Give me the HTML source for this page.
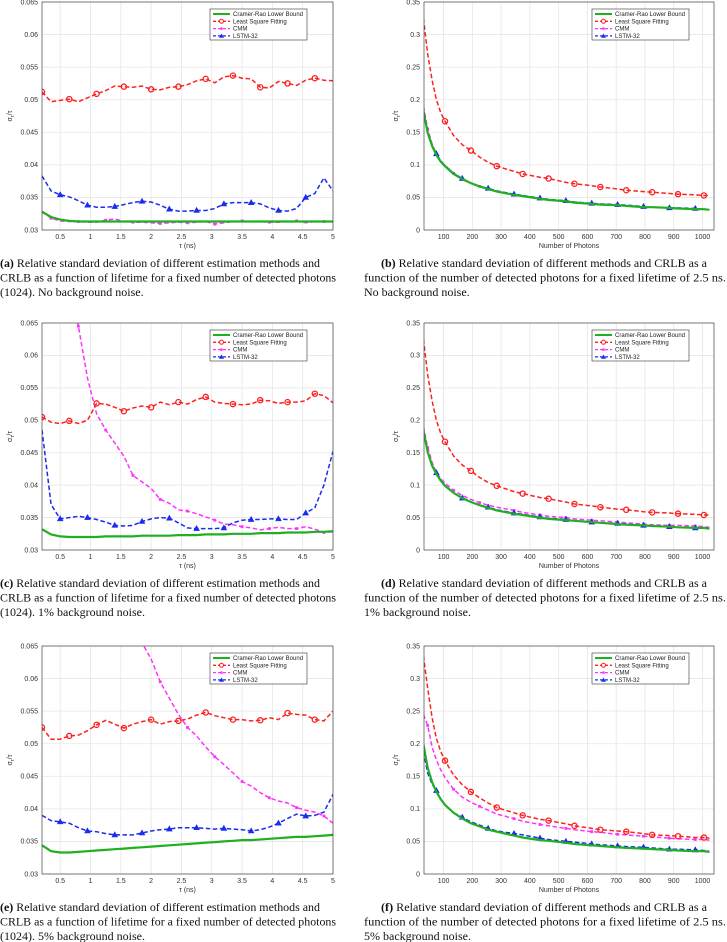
<!DOCTYPE html>
<html><head><meta charset="utf-8"><style>
html,body{margin:0;padding:0;background:#fff}
svg{display:block}
.tk{font-family:"Liberation Sans",sans-serif;font-size:7px;fill:#333}
.lg{font-family:"Liberation Sans",sans-serif;font-size:6px;fill:#222}
.cap{font-family:"Liberation Serif",serif;font-size:12px;fill:#111}
</style></head><body>
<svg id="fig" width="727" height="942" viewBox="0 0 727 942" xmlns="http://www.w3.org/2000/svg"></svg>
<script>
// ---- data ----
const tauGrid=[0.2,0.35,0.5,0.65,0.8,0.95,1.1,1.25,1.4,1.55,1.7,1.85,2.0,2.15,2.3,2.45,2.6,2.75,2.9,3.05,3.2,3.35,3.5,3.65,3.8,3.95,4.1,4.25,4.4,4.55,4.7,4.85,5.0];
const aCRLB=[0.0328,0.0320,0.0316,0.0314,0.0313,0.0313,0.0313,0.0313,0.0313,0.0313,0.0313,0.0313,0.0313,0.0313,0.0313,0.0313,0.0313,0.0313,0.0313,0.0313,0.0313,0.0313,0.0313,0.0313,0.0313,0.0313,0.0313,0.0313,0.0313,0.0313,0.0313,0.0313,0.0313];
const aLSF=[0.0512,0.0497,0.0499,0.0501,0.0497,0.0503,0.0509,0.0514,0.0521,0.0520,0.0519,0.0521,0.0516,0.0515,0.0519,0.0520,0.0523,0.0529,0.0532,0.0526,0.0535,0.0537,0.0533,0.0532,0.0519,0.0518,0.0528,0.0525,0.0522,0.0530,0.0533,0.0530,0.0529];
const aCMM=[0.0329,0.0318,0.0314,0.0313,0.0313,0.0312,0.0312,0.0315,0.0317,0.0313,0.0312,0.0312,0.0311,0.0310,0.0311,0.0312,0.0311,0.0312,0.0313,0.0309,0.0311,0.0313,0.0314,0.0313,0.0313,0.0312,0.0312,0.0313,0.0314,0.0311,0.0313,0.0313,0.0313];
const aLSTM=[0.0383,0.0360,0.0354,0.0351,0.0345,0.0338,0.0335,0.0335,0.0336,0.0339,0.0342,0.0344,0.0343,0.0338,0.0332,0.0329,0.0329,0.0330,0.0330,0.0333,0.0340,0.0342,0.0342,0.0342,0.0340,0.0334,0.0330,0.0329,0.0333,0.0350,0.0356,0.0380,0.0360];
const cCRLB=[0.0332,0.0324,0.0321,0.0320,0.0320,0.0320,0.0320,0.0321,0.0321,0.0321,0.0321,0.0322,0.0322,0.0322,0.0322,0.0323,0.0323,0.0323,0.0324,0.0324,0.0324,0.0325,0.0325,0.0325,0.0326,0.0326,0.0326,0.0327,0.0327,0.0327,0.0328,0.0328,0.0329];
const cLSF=[0.0505,0.0497,0.0495,0.0499,0.0495,0.0500,0.0526,0.0525,0.0520,0.0514,0.0519,0.0522,0.0520,0.0528,0.0524,0.0528,0.0525,0.0532,0.0536,0.0528,0.0526,0.0525,0.0524,0.0525,0.0531,0.0530,0.0526,0.0528,0.0528,0.0530,0.0541,0.0538,0.0527];
const cCMM=[0.120,0.100,0.085,0.072,0.0645,0.0565,0.0510,0.0485,0.0465,0.0445,0.0415,0.0405,0.0395,0.0378,0.0372,0.0362,0.0360,0.0356,0.0351,0.0346,0.0340,0.0339,0.0336,0.0334,0.0331,0.0333,0.0335,0.0333,0.0333,0.0336,0.0332,0.0327,0.0328];
const cLSTM=[0.0485,0.0370,0.0348,0.0350,0.0352,0.0350,0.0347,0.0343,0.0338,0.0337,0.0338,0.0344,0.0348,0.0350,0.0349,0.0342,0.0334,0.0333,0.0333,0.0333,0.0334,0.0342,0.0346,0.0347,0.0347,0.0348,0.0348,0.0347,0.0347,0.0357,0.0365,0.0400,0.0452];
const eCRLB=[0.0344,0.0335,0.0333,0.0333,0.0334,0.0335,0.0336,0.0337,0.0338,0.0339,0.0340,0.0341,0.0342,0.0343,0.0344,0.0345,0.0346,0.0347,0.0348,0.0349,0.0350,0.0351,0.0352,0.0352,0.0353,0.0354,0.0355,0.0356,0.0357,0.0357,0.0358,0.0359,0.0360];
const eLSF=[0.0525,0.0507,0.0507,0.0512,0.0513,0.0520,0.0529,0.0536,0.0530,0.0524,0.0530,0.0534,0.0537,0.0530,0.0534,0.0535,0.0538,0.0544,0.0548,0.0543,0.0540,0.0537,0.0537,0.0535,0.0536,0.0540,0.0537,0.0547,0.0545,0.0544,0.0537,0.0535,0.0550];
const eCMM=[0.20,0.18,0.16,0.14,0.125,0.11,0.100,0.092,0.085,0.078,0.0675,0.0655,0.0630,0.0595,0.0570,0.0545,0.0525,0.0512,0.0495,0.0480,0.0468,0.0455,0.0442,0.0435,0.0425,0.0417,0.0412,0.0409,0.0402,0.0398,0.0395,0.0389,0.0378];
const eLSTM=[0.0390,0.0382,0.0380,0.0378,0.0371,0.0366,0.0365,0.0362,0.0360,0.0360,0.0360,0.0363,0.0366,0.0368,0.0369,0.0371,0.0371,0.0371,0.0370,0.0369,0.0370,0.0369,0.0368,0.0366,0.0368,0.0372,0.0378,0.0385,0.0392,0.0389,0.0390,0.0395,0.0422];
const photonGrid=[30,45,60,75,90,105,135,165,195,225,255,285,345,375,435,465,525,555,615,645,705,735,795,825,885,915,975,1005,1024];
const bCRLB=[0.182,0.149,0.129,0.115,0.105,0.098,0.086,0.078,0.072,0.067,0.063,0.059,0.054,0.052,0.048,0.046,0.044,0.042,0.040,0.039,0.038,0.037,0.035,0.035,0.034,0.033,0.032,0.032,0.031];
const bLSF=[0.325,0.270,0.230,0.200,0.180,0.167,0.145,0.131,0.122,0.112,0.104,0.098,0.090,0.086,0.081,0.079,0.073,0.071,0.068,0.066,0.063,0.061,0.059,0.058,0.056,0.055,0.054,0.053,0.053];
const bCMM=[0.190,0.155,0.132,0.117,0.106,0.099,0.087,0.079,0.072,0.067,0.063,0.059,0.054,0.052,0.048,0.046,0.044,0.042,0.040,0.039,0.038,0.037,0.035,0.035,0.034,0.033,0.032,0.032,0.031];
const bLSTM=[0.185,0.150,0.130,0.117,0.106,0.099,0.087,0.079,0.072,0.067,0.064,0.060,0.055,0.053,0.049,0.047,0.045,0.043,0.041,0.040,0.039,0.038,0.036,0.035,0.034,0.034,0.033,0.032,0.031];
const dCRLB=[0.184,0.151,0.130,0.117,0.107,0.099,0.088,0.080,0.074,0.069,0.065,0.061,0.056,0.054,0.050,0.048,0.046,0.045,0.043,0.042,0.040,0.039,0.038,0.037,0.036,0.035,0.034,0.034,0.033];
const dLSF=[0.325,0.270,0.230,0.200,0.180,0.167,0.145,0.131,0.122,0.112,0.104,0.099,0.090,0.087,0.081,0.079,0.074,0.071,0.068,0.066,0.063,0.062,0.059,0.058,0.057,0.056,0.055,0.054,0.054];
const dCMM=[0.190,0.158,0.135,0.120,0.110,0.103,0.092,0.084,0.078,0.073,0.069,0.066,0.061,0.058,0.054,0.052,0.050,0.048,0.046,0.045,0.043,0.042,0.040,0.039,0.038,0.038,0.037,0.036,0.035];
const dLSTM=[0.185,0.151,0.131,0.119,0.108,0.100,0.088,0.080,0.074,0.069,0.066,0.062,0.057,0.055,0.051,0.049,0.047,0.045,0.043,0.042,0.041,0.040,0.038,0.037,0.036,0.035,0.034,0.034,0.033];
const fCRLB=[0.199,0.163,0.141,0.126,0.115,0.106,0.094,0.085,0.078,0.073,0.068,0.065,0.059,0.056,0.052,0.051,0.048,0.046,0.044,0.043,0.041,0.040,0.039,0.038,0.037,0.036,0.035,0.035,0.034];
const fLSF=[0.335,0.285,0.240,0.208,0.188,0.174,0.152,0.137,0.126,0.117,0.109,0.102,0.094,0.090,0.084,0.082,0.077,0.074,0.070,0.068,0.066,0.065,0.062,0.060,0.059,0.058,0.056,0.056,0.055];
const fCMM=[0.245,0.228,0.195,0.175,0.160,0.148,0.130,0.118,0.110,0.104,0.098,0.092,0.085,0.081,0.076,0.074,0.070,0.068,0.065,0.064,0.061,0.060,0.058,0.057,0.055,0.054,0.053,0.053,0.052];
const fLSTM=[0.188,0.155,0.138,0.128,0.115,0.106,0.094,0.087,0.080,0.075,0.070,0.066,0.062,0.060,0.055,0.053,0.050,0.049,0.046,0.045,0.043,0.042,0.041,0.040,0.038,0.038,0.037,0.036,0.035];
const tauTicks=[0.5,1,1.5,2,2.5,3,3.5,4,4.5,5];
const tauTickLabels=["0.5","1","1.5","2","2.5","3","3.5","4","4.5","5"];
const tauYTicks=[0.03,0.035,0.04,0.045,0.05,0.055,0.06,0.065];
const tauYTickLabels=["0.03","0.035","0.04","0.045","0.05","0.055","0.06","0.065"];
const phTicks=[100,200,300,400,500,600,700,800,900,1000];
const phTickLabels=["100","200","300","400","500","600","700","800","900","1000"];
const phYTicks=[0,0.05,0.1,0.15,0.2,0.25,0.3,0.35];
const phYTickLabels=["0","0.05","0.1","0.15","0.2","0.25","0.3","0.35"];
const lsfTauMarks=[0.2,0.65,1.1,1.55,2.0,2.45,2.9,3.35,3.8,4.25,4.7];
const lstmTauMarks=[0.5,0.95,1.4,1.85,2.3,2.75,3.2,3.65,4.1,4.55];
const cmmTauMarks=[0.35,0.8,1.25,1.7,2.15,2.6,3.05,3.5,3.95,4.4,4.85];
const lsfPhMarks=[105,195,285,375,465,555,645,735,825,915,1005];
const lstmPhMarks=[75,165,255,345,435,525,615,705,795,885,975];
const cmmPhMarks=[45,135,225,345,435,525,615,705,795,885,975];
const legendNames=["Cramer-Rao Lower Bound","Least Square Fitting","CMM","LSTM-32"];

const NS="http://www.w3.org/2000/svg";
const svg=document.getElementById('fig');
function mk(tag,attrs,parent){const e=document.createElementNS(NS,tag);for(const k in attrs)e.setAttribute(k,attrs[k]);(parent||svg).appendChild(e);return e;}

const COL={crlb:"#1fb01f",lsf:"#ff2020",cmm:"#ff33ff",lstm:"#1a2cf0"};

function panel(id,kind,x0,x1,y0,y1,series,caption){
  const g=mk('g',{});
  
  
  const isTau=kind==='tau';
  const xd=isTau?[0.2,5]:[32,1040];
  const yd=isTau?[0.03,0.065]:[0,0.35];
  const sx=v=>x0+(v-xd[0])/(xd[1]-xd[0])*(x1-x0);
  const sy=v=>y1-(v-yd[0])/(yd[1]-yd[0])*(y1-y0);
  mk('rect',{x:x0,y:y0,width:x1-x0,height:y1-y0,fill:'#fff'},g);
  const xt=isTau?tauTicks:phTicks, xl=isTau?tauTickLabels:phTickLabels;
  const yt=isTau?tauYTicks:phYTicks, yl=isTau?tauYTickLabels:phYTickLabels;
  xt.forEach((t,i)=>{
    mk('line',{x1:sx(t),x2:sx(t),y1:y0,y2:y1,stroke:'#e6e6e6','stroke-width':0.8},g);
    const tx=mk('text',{x:sx(t),y:y1+9,'text-anchor':'middle',class:'tk'},g);tx.textContent=xl[i];
    
    
  });
  yt.forEach((t,i)=>{
    mk('line',{x1:x0,x2:x1,y1:sy(t),y2:sy(t),stroke:'#e6e6e6','stroke-width':0.8},g);
    const tx=mk('text',{x:x0-4,y:sy(t)+2.3,'text-anchor':'end',class:'tk'},g);tx.textContent=yl[i];
    
    
  });
  const xlab=mk('text',{x:(x0+x1)/2,y:y1+18,'text-anchor':'middle',class:'tk'},g);
  xlab.textContent=isTau?'τ (ns)':'Number of Photons';
  
  
  const ylab=mk('text',{x:0,y:0,'text-anchor':'middle',class:'tk',transform:`translate(${x0-(isTau?30:26)},${(y0+y1)/2}) rotate(-90)`},g);
  ylab.innerHTML='σ<tspan dy="2" font-size="5">τ</tspan><tspan dy="-2">/τ</tspan>';
  
  
  const cid='clip'+id;
  const cp=mk('clipPath',{id:cid},g);mk('rect',{x:x0,y:y0,width:x1-x0,height:y1-y0},cp);
  const pg=mk('g',{'clip-path':`url(#${cid})`},g);
  const grid=isTau?tauGrid:photonGrid;
  const marks={lsf:isTau?lsfTauMarks:lsfPhMarks,lstm:isTau?lstmTauMarks:lstmPhMarks,cmm:isTau?cmmTauMarks:cmmPhMarks};
  ['cmm','lsf','lstm','crlb'].forEach(key=>{
    const vals=series[key];
    const d=vals.map((v,i)=>(i?'L':'M')+sx(grid[i]).toFixed(1)+','+sy(v).toFixed(1)).join('');
    const p=mk('path',{d:d,fill:'none',stroke:COL[key],'stroke-width':key==='crlb'?2.2:1.5,'stroke-dasharray':key==='crlb'?'none':'4.5,2.5'},pg);
    
    
    if(key==='crlb')return;
    marks[key].forEach(m=>{
      const i=grid.indexOf(m); if(i<0)return;
      const cx=sx(grid[i]), cy=sy(vals[i]);
      let mkEl;
      if(key==='lsf') mkEl=mk('circle',{cx:cx,cy:cy,r:2.6,fill:'none',stroke:COL.lsf,'stroke-width':1.3},pg);
      else if(key==='lstm') mkEl=mk('path',{d:`M${cx},${cy-3}L${cx+2.8},${cy+2}L${cx-2.8},${cy+2}Z`,fill:COL.lstm,stroke:COL.lstm,'stroke-width':0.6},pg);
      else mkEl=mk('rect',{x:cx-1.4,y:cy-1.4,width:2.8,height:2.8,fill:COL.cmm},pg);
      
      
    });
  });
  mk('rect',{x:x0,y:y0,width:x1-x0,height:y1-y0,fill:'none',stroke:'#444','stroke-width':0.7},g);
  const lx=x0+168, ly=y0+7;
  const lg=mk('g',{},g);
  
  
  mk('rect',{x:lx,y:ly,width:97,height:31,fill:'#fff',stroke:'#333','stroke-width':0.6},lg);
  ['crlb','lsf','cmm','lstm'].forEach((key,i)=>{
    const yy=ly+5+i*7.3;
    mk('line',{x1:lx+3,x2:lx+20,y1:yy,y2:yy,stroke:COL[key],'stroke-width':key==='crlb'?2:1.3,'stroke-dasharray':key==='crlb'?'none':'3,2'},lg);
    if(key==='lsf')mk('circle',{cx:lx+11.5,cy:yy,r:2,fill:'#fff',stroke:COL.lsf,'stroke-width':1},lg);
    if(key==='lstm')mk('path',{d:`M${lx+11.5},${yy-2.4}L${lx+14},${yy+1.8}L${lx+9},${yy+1.8}Z`,fill:COL.lstm},lg);
    if(key==='cmm')mk('rect',{x:lx+10.3,y:yy-1.2,width:2.4,height:2.4,fill:COL.cmm},lg);
    const t=mk('text',{x:lx+23,y:yy+2,class:'lg'},lg);t.textContent=legendNames[i];
    
    
  });
  const cx0=isTau?0:381;
  caption.forEach((ln,i)=>{
    const xx=(i===0)?cx0:(isTau?0:364);
    const attrs={x:xx,y:y1+37+i*14.5,class:'cap'};
    if(ln.w){attrs.textLength=ln.w;attrs.lengthAdjust='spacingAndGlyphs';}
    const t=mk('text',attrs,g);
    if(i===0){t.innerHTML='<tspan font-weight="bold">('+id+')</tspan> '+ln.t;}else t.textContent=ln.t;
    
    
  });
}
const rows=[[2,230],[323,550],[646,874]];
const LX=[42,333],RX=[424,714];
panel('a','tau',LX[0],LX[1],rows[0][0],rows[0][1],{crlb:aCRLB,lsf:aLSF,cmm:aCMM,lstm:aLSTM},
 [{t:'Relative standard deviation of different estimation methods and',w:320},{t:'CRLB as a function of lifetime for a fixed number of detected photons',w:336},{t:'(1024). No background noise.'}]);
panel('b','ph',RX[0],RX[1],rows[0][0],rows[0][1],{crlb:bCRLB,lsf:bLSF,cmm:bCMM,lstm:bLSTM},
 [{t:'Relative standard deviation of different methods and CRLB as a',w:326},{t:'function of the number of detected photons for a fixed lifetime of 2.5 ns.',w:362},{t:'No background noise.'}]);
panel('c','tau',LX[0],LX[1],rows[1][0],rows[1][1],{crlb:cCRLB,lsf:cLSF,cmm:cCMM,lstm:cLSTM},
 [{t:'Relative standard deviation of different estimation methods and',w:320},{t:'CRLB as a function of lifetime for a fixed number of detected photons',w:336},{t:'(1024). 1% background noise.'}]);
panel('d','ph',RX[0],RX[1],rows[1][0],rows[1][1],{crlb:dCRLB,lsf:dLSF,cmm:dCMM,lstm:dLSTM},
 [{t:'Relative standard deviation of different methods and CRLB as a',w:326},{t:'function of the number of detected photons for a fixed lifetime of 2.5 ns.',w:362},{t:'1% background noise.'}]);
panel('e','tau',LX[0],LX[1],rows[2][0],rows[2][1],{crlb:eCRLB,lsf:eLSF,cmm:eCMM,lstm:eLSTM},
 [{t:'Relative standard deviation of different estimation methods and',w:320},{t:'CRLB as a function of lifetime for a fixed number of detected photons',w:336},{t:'(1024). 5% background noise.'}]);
panel('f','ph',RX[0],RX[1],rows[2][0],rows[2][1],{crlb:fCRLB,lsf:fLSF,cmm:fCMM,lstm:fLSTM},
 [{t:'Relative standard deviation of different methods and CRLB as a',w:326},{t:'function of the number of detected photons for a fixed lifetime of 2.5 ns.',w:362},{t:'5% background noise.'}]);
</script>
</body></html>
